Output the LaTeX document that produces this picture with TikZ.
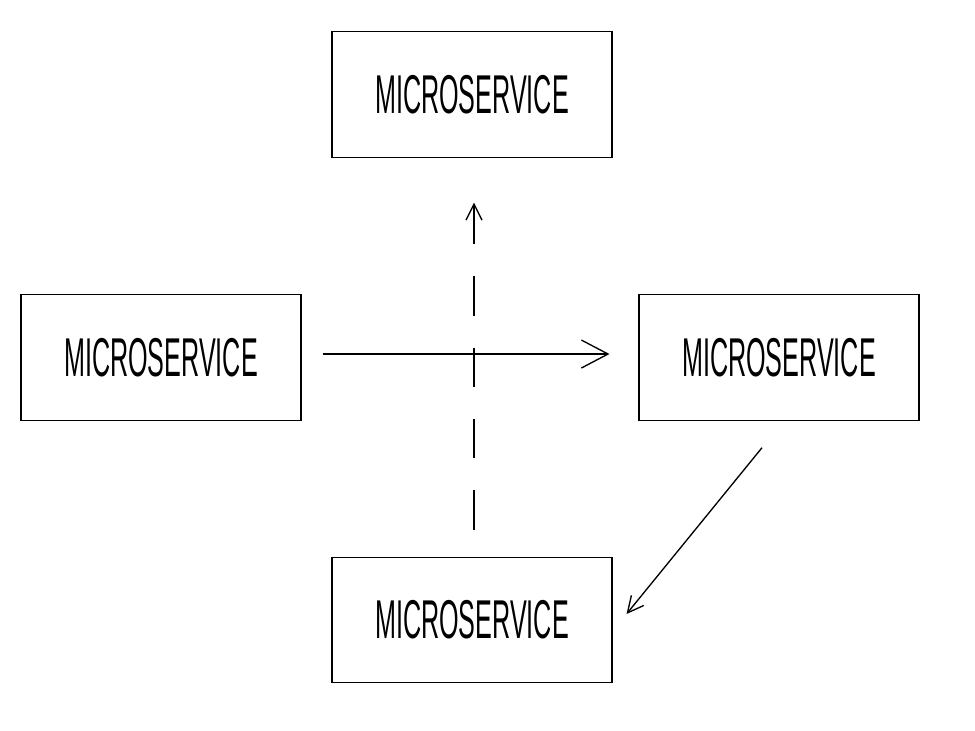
\documentclass[tikz,border=0pt]{standalone}
\usepackage{fontspec}
\setmainfont{Liberation Sans}[FakeStretch=0.46]
\usetikzlibrary{arrows.meta}

\tikzset{
  service/.style={draw, line width=0.8pt, minimum width=210pt, minimum height=94pt, inner sep=0pt, font=\fontsize{41}{41}\selectfont},
  flow/.style={line width=1pt},
  bigtip/.style={-{Straight Barb[length=20pt, width=21pt, line width=1pt]}},
  smalltip/.style={-{Straight Barb[length=12pt, width=12pt, line width=1pt]}},
  backtip/.style={{Straight Barb[length=12pt, width=12pt, line width=1pt]}-}
}

\begin{document}
\begin{tikzpicture}[x=0.75pt,y=0.75pt,yscale=-1,xscale=1]
\useasboundingbox (0,0) rectangle (975,731);

% Boxes
\node [service] (top) at (472,94.5) {MICROSERVICE};
\node [service] (left) at (161,357.5) {MICROSERVICE};
\node [service] (right) at (779,357.5) {MICROSERVICE};
\node [service] (bottom) at (472,620) {MICROSERVICE};

% Straight arrow
\draw [flow, bigtip, shorten <=15.75pt, shorten >=21.75pt] ([yshift=-2.6pt]left.east) -- ([yshift=-2.6pt]right.west);
% Dashed arrow
\draw [flow, backtip, dash pattern={on 29.5pt off 24pt}, shorten <=33.75pt, shorten >=16.5pt] ([xshift=1.5pt]top.south) -- ([xshift=1.5pt]bottom.north);
% Diagonal arrow
\draw [flow, smalltip] ([shift={(-17,27)}]right.south) -- ([shift={(14,-6)}]bottom.east);

\end{tikzpicture}
\end{document}
